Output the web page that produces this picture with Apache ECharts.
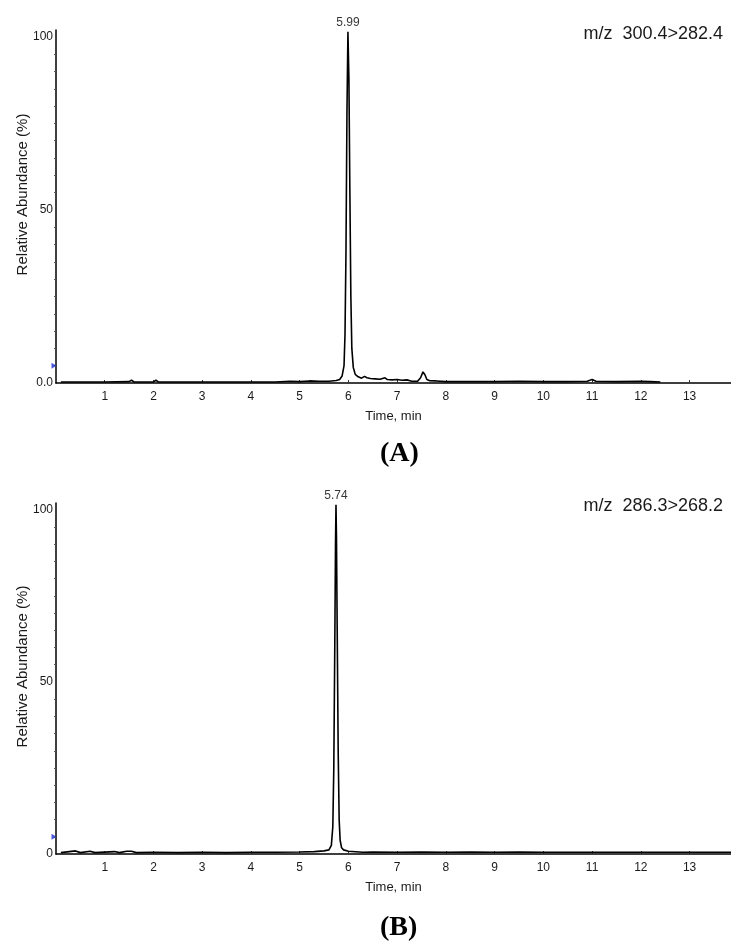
<!DOCTYPE html>
<html>
<head>
<meta charset="utf-8">
<script src="https://cdn.jsdelivr.net/npm/echarts@6/dist/echarts.min.js"></script>
<style>
  html, body { margin: 0; padding: 0; background: #fff; }
  #chart { width: 731px; height: 945px; }
</style>
</head>
<body>
<div id="chart"></div>
<script>
// chromatogram A: m/z 300.4>282.4
const timeA = [0.10, 0.50, 1.00, 1.50, 1.55, 1.60, 2.00, 2.05, 2.10, 2.60, 3.00, 3.50, 4.00, 4.50, 4.80, 5.00, 5.20, 5.40, 5.60, 5.75,
  5.82, 5.87, 5.91, 5.93, 5.95, 5.97, 5.99, 6.01, 6.03, 6.05, 6.07, 6.10, 6.14, 6.20, 6.27, 6.33, 6.38, 6.45, 6.55, 6.65,
  6.75, 6.80, 6.90, 7.00, 7.10, 7.20, 7.30, 7.42, 7.48, 7.53, 7.57, 7.61, 7.66, 7.80, 8.00, 8.50, 9.00, 9.50, 10.00, 10.50,
  10.90, 11.00, 11.08, 11.50, 12.00, 12.20, 12.40]
const abundA = [0.3, 0.3, 0.3, 0.4, 0.8, 0.3, 0.3, 0.8, 0.3, 0.3, 0.3, 0.3, 0.3, 0.3, 0.5, 0.4, 0.6, 0.5, 0.5, 0.7,
  1.0, 2.0, 5, 14, 38, 78, 101.5, 88, 55, 25, 10, 4.5, 2.5, 1.8, 1.4, 1.9, 1.5, 1.3, 1.2, 1.1,
  1.5, 1.0, 0.9, 1.0, 0.8, 0.9, 0.5, 0.5, 1.5, 3.2, 2.4, 1.0, 0.7, 0.6, 0.4, 0.4, 0.4, 0.5, 0.4, 0.4,
  0.5, 1.0, 0.5, 0.4, 0.5, 0.4, 0.3]

// chromatogram B: m/z 286.3>268.2
const timeB = [0.10, 0.40, 0.50, 0.70, 0.80, 1.20, 1.30, 1.45, 1.55, 1.65, 2.00, 2.50, 3.00, 3.50, 4.00, 4.50, 5.00, 5.30, 5.50, 5.60,
  5.65, 5.68, 5.70, 5.72, 5.735, 5.745, 5.755, 5.77, 5.79, 5.81, 5.83, 5.86, 5.90, 6.00, 6.30, 6.50, 7.00, 7.50, 8.00, 8.50,
  9.00, 9.50, 10.00, 10.50, 11.00, 11.50, 12.00, 12.50, 13.00, 13.50, 13.85]
const abundB = [0.4, 0.9, 0.4, 0.8, 0.4, 0.7, 0.4, 0.8, 0.8, 0.4, 0.5, 0.4, 0.5, 0.4, 0.5, 0.5, 0.6, 0.7, 0.9, 1.2,
  2.5, 8, 25, 60, 90, 101.5, 92, 65, 30, 10, 4, 1.8, 1.2, 0.8, 0.5, 0.6, 0.5, 0.6, 0.5, 0.6,
  0.5, 0.6, 0.5, 0.5, 0.5, 0.5, 0.5, 0.5, 0.5, 0.5, 0.5]

const peakLabels = ['5.99', '5.74']
const transitions = ['m/z  300.4>282.4', 'm/z  286.3>268.2']
const panelLabels = ['(A)', '(B)']
const yTicks = [[0, '0.0'], [50, '50'], [100, '100']]
const yTicksB = [[0, '0'], [50, '50'], [100, '100']]
const markerLevel = 5

const textColor = '#1a1a1a'
const fontSans = 'Liberation Sans, Arial, sans-serif'
const tops = [30, 503]
const heights = [353, 351]

function yAxisFor(idx, ticks) {
  return {
    gridIndex: idx,
    type: 'value',
    min: 0,
    max: 102,
    interval: 50,
    name: 'Relative Abundance (%)',
    nameLocation: 'middle',
    nameGap: 26,
    nameMoveOverlap: false,
    nameTextStyle: {
      fontSize: 15,
      color: textColor,
      fontFamily: fontSans,
      padding: [0, 0, 0, 24]
    },
    axisLine: { show: true, lineStyle: { color: '#000', width: 1.5 } },
    axisTick: { show: false },
    minorTick: { show: true, splitNumber: 10, length: 2, lineStyle: { color: '#555' } },
    splitLine: { show: false },
    axisLabel: {
      fontSize: 12,
      color: textColor,
      margin: 3,
      fontFamily: fontSans,
      formatter: function (v) {
        let hit = ticks.find(t => t[0] === v)
        return hit ? hit[1] : ''
      }
    }
  }
}

function xAxisFor(idx) {
  return {
    gridIndex: idx,
    type: 'value',
    min: 0,
    max: 13.85,
    interval: 1,
    name: 'Time, min',
    nameLocation: 'middle',
    nameGap: 27,
    nameMoveOverlap: false,
    nameTextStyle: { fontSize: 13, color: textColor, fontFamily: fontSans },
    axisLine: { show: true, lineStyle: { color: '#000', width: 1.5 } },
    axisTick: { show: true, inside: true, length: 3, lineStyle: { color: '#333' } },
    splitLine: { show: false },
    axisLabel: {
      fontSize: 12,
      color: textColor,
      margin: 8,
      showMinLabel: false,
      showMaxLabel: false,
      fontFamily: fontSans,
      formatter: function (v) {
        return (v > 0 && Number.isInteger(v)) ? String(v) : ''
      }
    }
  }
}

function traceSeries(idx, times, values) {
  return {
    type: 'line',
    xAxisIndex: idx,
    yAxisIndex: idx,
    data: times.map((t, i) => [t, values[i]]),
    showSymbol: false,
    symbol: 'none',
    lineStyle: { color: '#000', width: 1.6 },
    animation: false,
    z: 3
  }
}

// 峰顶保留时间标签
function apexSeries(idx, times, values, label) {
  let maxIdx = values.indexOf(Math.max(...values))
  return {
    type: 'scatter',
    xAxisIndex: idx,
    yAxisIndex: idx,
    data: [[times[maxIdx], values[maxIdx]]],
    symbolSize: 1,
    itemStyle: { color: 'rgba(0,0,0,0)' },
    label: {
      show: true,
      position: 'top',
      distance: 3,
      formatter: label,
      fontSize: 12,
      color: '#000',
      fontFamily: fontSans
    },
    silent: true,
    clip: false,
    animation: false,
    z: 6
  }
}

function markerSeries(idx) {
  return {
    type: 'scatter',
    xAxisIndex: idx,
    yAxisIndex: idx,
    data: [[0, markerLevel]],
    symbol: 'triangle',
    symbolRotate: -90,
    symbolSize: [6, 5],
    symbolOffset: [-2, 0],
    itemStyle: { color: '#1f2fd6' },
    clip: false,
    silent: true,
    animation: false,
    z: 5
  }
}

let myChart = echarts.init(document.getElementById('chart'))
let option = {
  backgroundColor: '#fff',
  animation: false,
  grid: [
    { left: 56, right: 0, top: tops[0], height: heights[0] },
    { left: 56, right: 0, top: tops[1], height: heights[1] }
  ],
  xAxis: [xAxisFor(0), xAxisFor(1)],
  yAxis: [yAxisFor(0, yTicks), yAxisFor(1, yTicksB)],
  series: [
    traceSeries(0, timeA, abundA),
    traceSeries(1, timeB, abundB),
    apexSeries(0, timeA, abundA, peakLabels[0]),
    apexSeries(1, timeB, abundB, peakLabels[1]),
    markerSeries(0),
    markerSeries(1)
  ],
  graphic: [
    // 通道标注
    {
      type: 'text', right: 8, top: 25,
      style: { text: transitions[0], fontSize: 18, fill: textColor, fontFamily: fontSans }
    },
    {
      type: 'text', right: 8, top: 497,
      style: { text: transitions[1], fontSize: 18, fill: textColor, fontFamily: fontSans }
    },
    // 面板标签
    {
      type: 'text', left: 380, top: 440,
      style: { text: panelLabels[0], fontSize: 28, fontWeight: 'bold', fill: '#000', fontFamily: 'Liberation Serif, Times New Roman, serif' }
    },
    {
      type: 'text', left: 380, top: 914,
      style: { text: panelLabels[1], fontSize: 28, fontWeight: 'bold', fill: '#000', fontFamily: 'Liberation Serif, Times New Roman, serif' }
    }
  ]
}
myChart.setOption(option)
// 自适应
window.addEventListener('resize', function () {
  myChart.resize()
})
</script>
</body>
</html>
